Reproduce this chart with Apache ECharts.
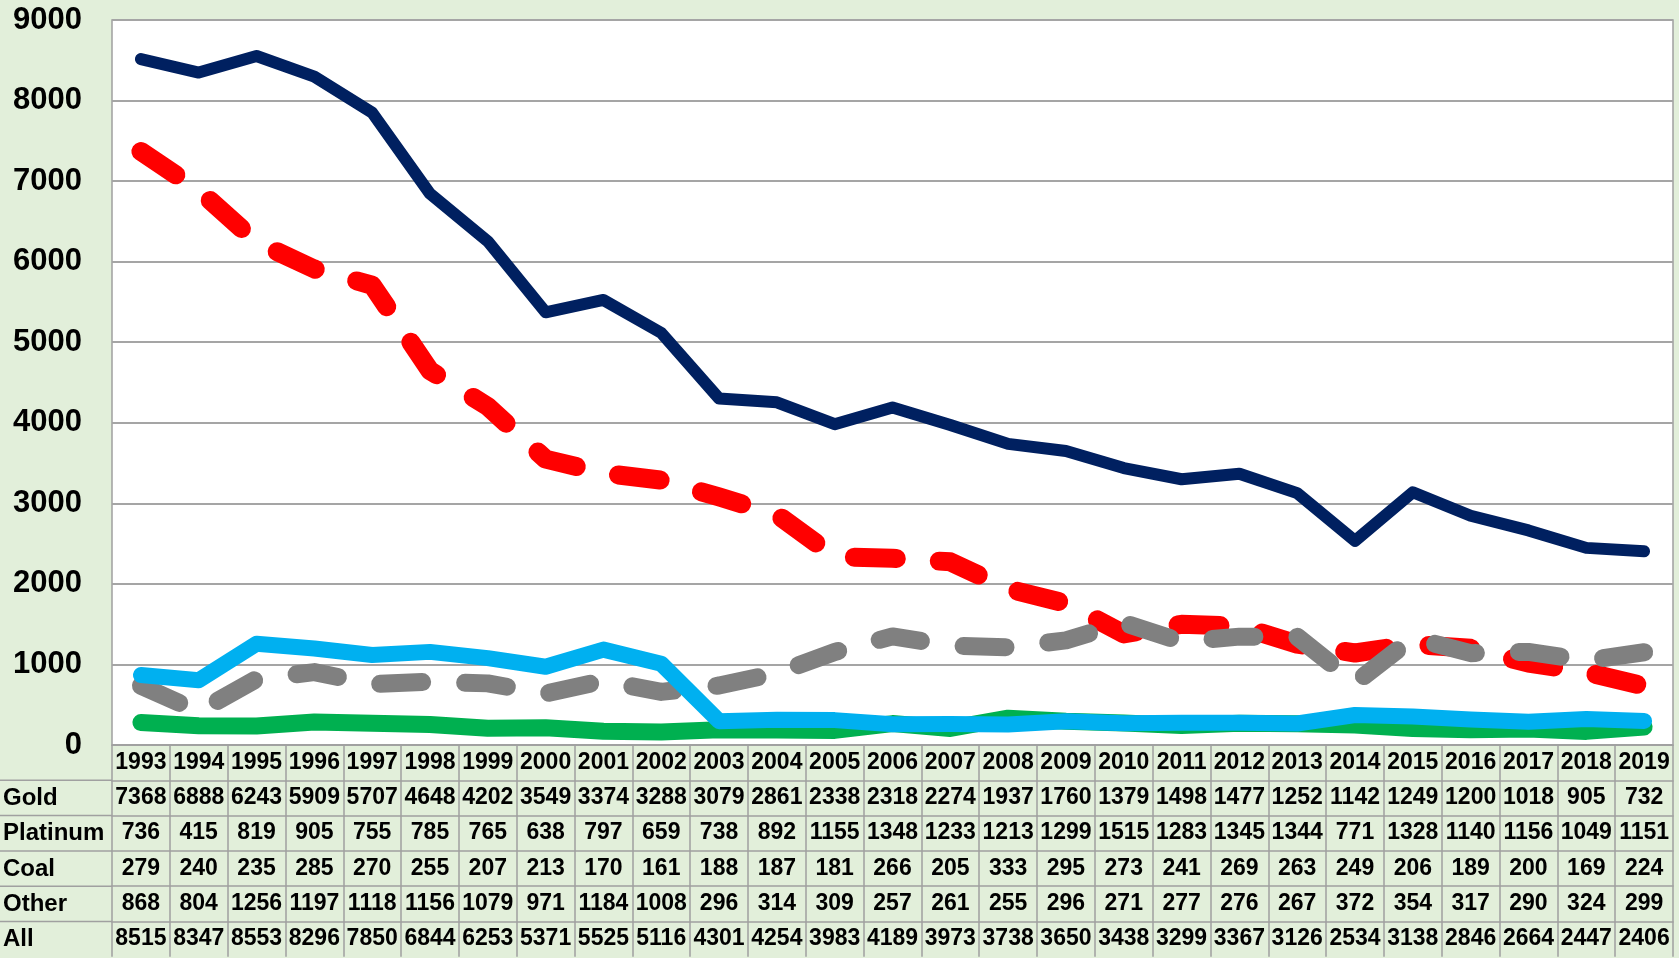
<!DOCTYPE html>
<html>
<head>
<meta charset="utf-8">
<title>Mine fatalities</title>
<script src="https://cdn.jsdelivr.net/npm/echarts@6.0.0/dist/echarts.min.js"></script>
<style>
html,body{margin:0;padding:0;background:#e2efda;}
#chart{width:1679px;height:958px;}
</style>
</head>
<body>
<div id="chart"></div>
<script>
var years = ['1993','1994','1995','1996','1997','1998','1999','2000','2001','2002','2003','2004','2005','2006','2007','2008','2009','2010','2011','2012','2013','2014','2015','2016','2017','2018','2019'];
var gold = [7368,6888,6243,5909,5707,4648,4202,3549,3374,3288,3079,2861,2338,2318,2274,1937,1760,1379,1498,1477,1252,1142,1249,1200,1018,905,732];
var platinum = [736,415,819,905,755,785,765,638,797,659,738,892,1155,1348,1233,1213,1299,1515,1283,1345,1344,771,1328,1140,1156,1049,1151];
var coal = [279,240,235,285,270,255,207,213,170,161,188,187,181,266,205,333,295,273,241,269,263,249,206,189,200,169,224];
var other = [868,804,1256,1197,1118,1156,1079,971,1184,1008,296,314,309,257,261,255,296,271,277,276,267,372,354,317,290,324,299];
var all = [8515,8347,8553,8296,7850,6844,6253,5371,5525,5116,4301,4254,3983,4189,3973,3738,3650,3438,3299,3367,3126,2534,3138,2846,2664,2447,2406];

var FONT = '"Liberation Sans", Arial, sans-serif';
var GRID_LEFT = 112, GRID_TOP = 20, GRID_RIGHT = 6, GRID_BOTTOM = 213;
var ROW_H = 35.3;
var BORDER = '#a0a0a0';

// one category axis per table row, stacked below the plot
function tableAxis(label, values, k){
	return {
		type: 'category',
		gridIndex: 0,
		position: 'bottom',
		offset: k * ROW_H,
		data: values.map(String),
		boundaryGap: true,
		axisLine: {show: true, lineStyle: {color: BORDER, width: 1.5}},
		axisTick: {show: true, length: ROW_H, lineStyle: {color: BORDER, width: 1.5}},
		axisLabel: {interval: 0, margin: 6, color: '#000', fontSize: 23, fontWeight: 'bold', fontFamily: FONT},
		splitLine: {show: false},
		name: label,
		nameLocation: 'start',
		nameGap: GRID_LEFT - 3,
		nameTextStyle: {align: 'left', verticalAlign: 'top', padding: [6, 0, 0, 0], color: '#000', fontSize: 24, fontWeight: 'bold', fontFamily: FONT}
	};
}

function lineSeries(name, data, color, width, dashed){
	return {
		name: name,
		type: 'line',
		xAxisIndex: 0,
		data: data,
		symbol: 'none',
		lineStyle: {color: color, width: width, type: dashed ? [42, 43] : 'solid', cap: 'round', join: 'round'}
	};
}

var tableTop = 958 - GRID_BOTTOM;
var rowLines = [];
for(var i=1;i<=5;i++){
	rowLines.push({
		type: 'line',
		shape: {x1: 0, y1: tableTop + i*ROW_H, x2: GRID_LEFT, y2: tableTop + i*ROW_H},
		style: {stroke: BORDER, lineWidth: 1.5}
	});
}

var chart = echarts.init(document.getElementById('chart'));
var option = {
	animation: false,
	backgroundColor: '#e2efda',
	grid: {
		left: GRID_LEFT, top: GRID_TOP, right: GRID_RIGHT, bottom: GRID_BOTTOM,
		show: true, backgroundColor: '#fff', borderColor: BORDER, borderWidth: 1.5,
		outerBoundsMode: 'none'
	},
	xAxis: [
		tableAxis('', years, 0),
		tableAxis('Gold', gold, 1),
		tableAxis('Platinum', platinum, 2),
		tableAxis('Coal', coal, 3),
		tableAxis('Other', other, 4),
		tableAxis('All', all, 5)
	],
	yAxis: {
		type: 'value',
		min: 0,
		max: 9000,
		interval: 1000,
		axisLine: {show: false},
		axisTick: {show: false},
		axisLabel: {
			margin: 30, color: '#000', fontSize: 31, fontWeight: 'bold', fontFamily: FONT,
			formatter: function(v){ return String(v); }
		},
		splitLine: {lineStyle: {color: '#a5a5a5', width: 2}}
	},
	graphic: rowLines,
	series: [
		lineSeries('Gold', gold, '#ff0000', 19, true),
		lineSeries('Platinum', platinum, '#808080', 18, true),
		lineSeries('Coal', coal, '#00b050', 17, false),
		lineSeries('Other', other, '#00b0f0', 16, false),
		lineSeries('All', all, '#002060', 12, false)
	]
};
chart.setOption(option);
</script>
</body>
</html>
